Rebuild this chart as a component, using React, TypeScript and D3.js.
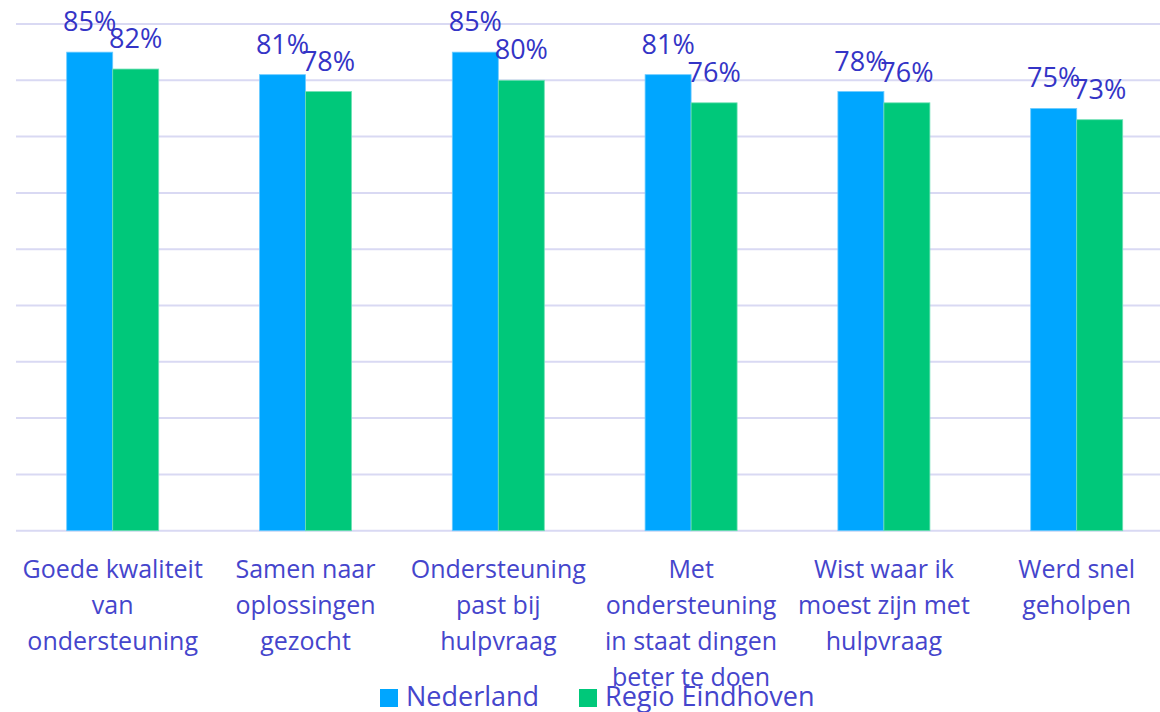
import React from "react";
import * as d3 from "d3";

const categories: string[][] = [
  ["Goede kwaliteit", "van", "ondersteuning"],
  ["Samen naar", "oplossingen", "gezocht"],
  ["Ondersteuning", "past bij", "hulpvraag"],
  ["Met", "ondersteuning", "in staat dingen", "beter te doen"],
  ["Wist waar ik", "moest zijn met", "hulpvraag"],
  ["Werd snel", "geholpen"],
];
const seriesNames = ["Nederland", "Regio Eindhoven"];
const nederland = [85, 81, 85, 81, 78, 75];
const regioEindhoven = [82, 78, 80, 76, 76, 73];
const yTicks = [0, 10, 20, 30, 40, 50, 60, 70, 80, 90, 100];

const W = 1160;
const H = 712;
const colors = ["#00A6FF", "#00C87A"];
const strokes = ["#6CCBFF", "#6FE0B4"];
const FONT = "'Open Sans', sans-serif";

export default function App() {
  const x0 = d3
    .scaleBand<number>()
    .domain(d3.range(categories.length))
    .range([16.3, 16.3 + 192.8 * 6])
    .paddingInner(0)
    .paddingOuter(0);
  const x1 = d3
    .scaleBand<number>()
    .domain([0, 1])
    .range([(192.8 - 92) / 2, (192.8 - 92) / 2 + 92]);
  const y = d3.scaleLinear().domain([0, 100]).range([530.7, 530.7 - 563]);

  const data = [nederland, regioEindhoven];

  return (
    <svg
      width={W}
      height={H}
      style={{ position: "absolute", left: 0, top: 0, background: "#fff" }}
      fontFamily={FONT}
    >
      {yTicks.map((t) => (
        <line
          key={t}
          x1={16}
          x2={W}
          y1={y(t)}
          y2={y(t)}
          stroke="#D9D9F3"
          strokeWidth={2}
        />
      ))}
      {categories.map((_, i) =>
        data.map((s, si) => {
          const xb = (x0(i) ?? 0) + (x1(si) ?? 0);
          const bw = x1.bandwidth();
          return (
            <g key={`${i}-${si}`}>
              <rect
                x={xb}
                y={y(s[i])}
                width={bw}
                height={y(0) - y(s[i])}
                fill={colors[si]}
                stroke={strokes[si]}
                strokeWidth={0.8}
              />
            </g>
          );
        })
      )}
      {categories.map((_, i) =>
        data.map((s, si) => {
          const xb = (x0(i) ?? 0) + (x1(si) ?? 0);
          const bw = x1.bandwidth();
          return (
            <text
              key={`l-${i}-${si}`}
              x={xb + bw / 2}
              y={y(s[i]) - 21}
              textAnchor="middle"
              fontSize={27}
              fill="#3434C6"
            >
              {s[i]}%
            </text>
          );
        })
      )}
      {categories.map((lines, i) => {
        const cx = (x0(i) ?? 0) + x0.bandwidth() / 2;
        return (
          <text
            key={`c-${i}`}
            textAnchor="middle"
            fontSize={25}
            fill="#4545CC"
          >
            {lines.map((ln, li) => (
              <tspan key={li} x={cx} y={577.7 + li * 36}>
                {ln}
              </tspan>
            ))}
          </text>
        );
      })}
      {seriesNames.map((name, si) => {
        const lx = [380, 579][si];
        return (
          <g key={name}>
            <rect x={lx} y={689} width={18} height={18} fill={colors[si]} />
            <text x={lx + 26} y={705.7} fontSize={27} fill="#4545CC">
              {name}
            </text>
          </g>
        );
      })}
    </svg>
  );
}
